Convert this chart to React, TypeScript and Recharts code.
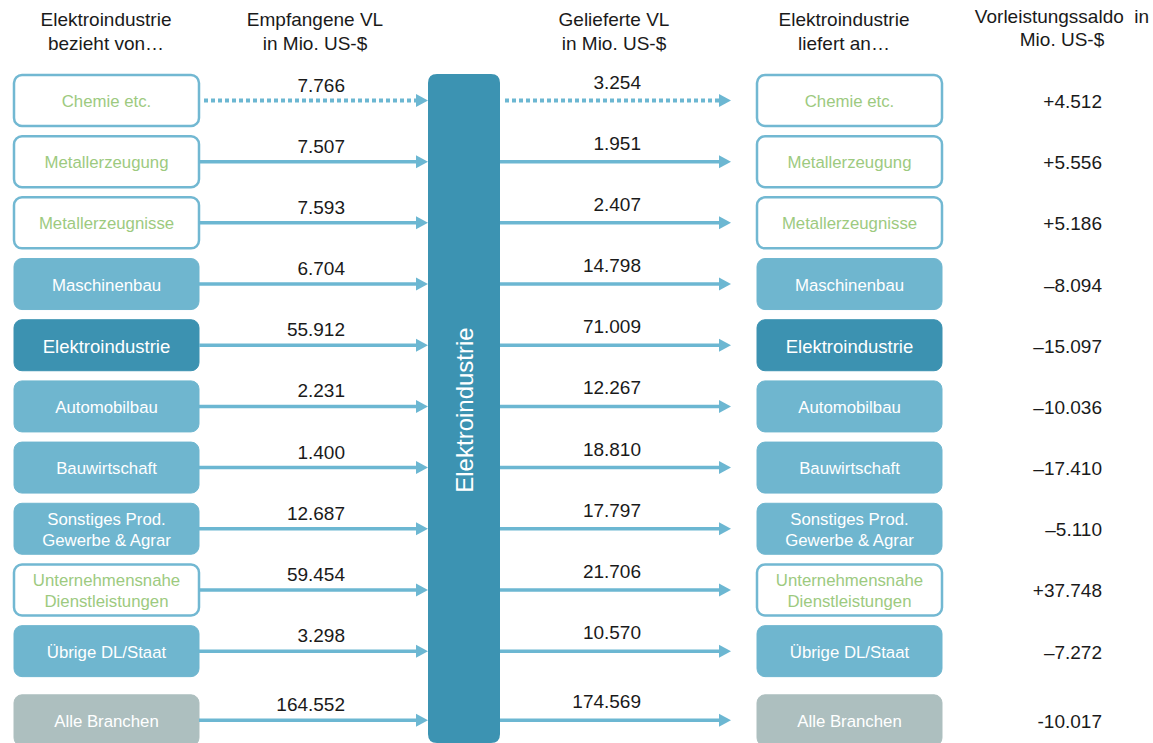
import { ComposedChart, Bar, XAxis, YAxis, ReferenceArea } from 'recharts'

const sectors = [
  'Chemie etc.',
  'Metallerzeugung',
  'Metallerzeugnisse',
  'Maschinenbau',
  'Elektroindustrie',
  'Automobilbau',
  'Bauwirtschaft',
  'Sonstiges Prod.\nGewerbe & Agrar',
  'Unternehmensnahe\nDienstleistungen',
  'Übrige DL/Staat',
  'Alle Branchen',
]
const received = [7766, 7507, 7593, 6704, 55912, 2231, 1400, 12687, 59454, 3298, 164552]
const delivered = [3254, 1951, 2407, 14798, 71009, 12267, 18810, 17797, 21706, 10570, 174569]
const balanceLabels = ['+4.512', '+5.556', '+5.186', '–8.094', '–15.097', '–10.036', '–17.410', '–5.110', '+37.748', '–7.272', '-10.017']
const boxKinds = ['outline', 'outline', 'outline', 'light', 'dark', 'light', 'light', 'light', 'outline', 'light', 'total']
const dottedRows = ['Chemie etc.']

const data = sectors.map((name, i) => ({
  name,
  received: received[i],
  delivered: delivered[i],
  balance: balanceLabels[i],
  kind: boxKinds[i],
  dotted: dottedRows.includes(name),
}))

const W = 1153
const H = 743
const FONT = '"Liberation Sans", Arial, sans-serif'
const ARROW = '#6cb7d2'
const GREEN = '#9dca7f'
const TEXT = '#1a1a1a'

const boxFill: Record<string, string> = { outline: '#ffffff', light: '#6fb6cf', dark: '#3c92b1', total: '#adbfbf' }

const fmt = (n: number) => String(n).replace(/\B(?=(\d{3})+(?!\d))/g, '.')

function SectorBox({ x, cy, name, kind }: { x: number; cy: number; name: string; kind: string }) {
  const w = 185
  const h = 51
  const lines = name.split('\n')
  const outline = kind === 'outline'
  const size = kind === 'dark' ? 18.5 : 16.8
  return (
    <g>
      <rect
        x={x}
        y={cy - h / 2}
        width={w}
        height={h}
        rx={8}
        fill={boxFill[kind]}
        stroke={outline ? '#72b8d2' : boxFill[kind]}
        strokeWidth={outline ? 2.5 : 1}
      />
      {lines.map((l, i) => (
        <text
          key={i}
          x={x + w / 2}
          y={cy + 1 + (i - (lines.length - 1) / 2) * 21}
          textAnchor="middle"
          dominantBaseline="central"
          fontSize={size}
          fontFamily={FONT}
          fill={outline ? GREEN : '#ffffff'}
        >
          {l}
        </text>
      ))}
    </g>
  )
}

function Flow({ x1, x2, cy, dotted }: { x1: number; x2: number; cy: number; dotted: boolean }) {
  return (
    <g>
      <line
        x1={dotted ? x1 + 5 : x1}
        y1={cy}
        x2={x2 - 10}
        y2={cy}
        stroke={ARROW}
        strokeWidth={dotted ? 4 : 3.5}
        strokeDasharray={dotted ? '4 3' : undefined}
      />
      <polygon points={`${x2},${cy} ${x2 - 12},${cy - 6.5} ${x2 - 12},${cy + 6.5}`} fill={ARROW} />
    </g>
  )
}

function RowShape(props: any) {
  const { y, height, payload } = props
  const cy = y + height / 2 + (payload.kind === 'total' ? 8 : 0)
  return (
    <g>
      <SectorBox x={14} cy={cy} name={payload.name} kind={payload.kind} />
      <Flow x1={199} x2={428} cy={cy} dotted={payload.dotted} />
      <text x={345} y={cy - 9} textAnchor="end" fontSize={19} fontFamily={FONT} fill={TEXT}>
        {fmt(payload.received)}
      </text>
      <Flow x1={500} x2={731} cy={cy} dotted={payload.dotted} />
      <text x={641} y={cy - 12} textAnchor="end" fontSize={19} fontFamily={FONT} fill={TEXT}>
        {fmt(payload.delivered)}
      </text>
      <SectorBox x={757} cy={cy} name={payload.name} kind={payload.kind} />
      <text x={1102} y={cy + 1} textAnchor="end" dominantBaseline="central" fontSize={19} fontFamily={FONT} fill={TEXT}>
        {payload.balance}
      </text>
    </g>
  )
}

function CenterBar(props: any) {
  const { x, width } = props
  const top = 74
  const r = 9
  const bottom = H
  const cx = x + width / 2
  const xr = x + width
  return (
    <g>
      <path
        d={`M${x},${bottom - r} L${x},${top + r} Q${x},${top} ${x + r},${top} L${xr - r},${top} Q${xr},${top} ${xr},${top + r} L${xr},${bottom - r} Q${xr},${bottom} ${xr - r},${bottom} L${x + r},${bottom} Q${x},${bottom} ${x},${bottom - r} Z`}
        fill="#3c93b2"
      />
      <text
        x={cx}
        y={410}
        transform={`rotate(-90 ${cx} 410)`}
        textAnchor="middle"
        dominantBaseline="central"
        fontSize={24}
        fontFamily={FONT}
        fill="#ffffff"
      >
        Elektroindustrie
      </text>
    </g>
  )
}

const headerStyle = (left: number, top: number, lh: number): React.CSSProperties => ({
  position: 'absolute',
  left: left - 120,
  width: 240,
  top,
  textAlign: 'center',
  fontFamily: FONT,
  fontSize: 19,
  lineHeight: `${lh}px`,
  color: TEXT,
  whiteSpace: 'pre',
})

export default function App() {
  return (
    <div style={{ position: 'absolute', left: 0, top: 0, width: W, height: H, background: '#fff', overflow: 'hidden' }}>
      <div style={headerStyle(106, 8, 24)}>Elektroindustrie<br />bezieht von…</div>
      <div style={headerStyle(315, 8, 24)}>Empfangene VL<br />in Mio. US-$</div>
      <div style={headerStyle(614, 8, 24)}>Gelieferte VL<br />in Mio. US-$</div>
      <div style={headerStyle(844, 8, 24)}>Elektroindustrie<br />liefert an…</div>
      <div style={headerStyle(1062, 5, 23)}>Vorleistungssaldo  in<br />Mio. US-$</div>
      <ComposedChart
        width={W}
        height={H}
        data={data}
        layout="vertical"
        margin={{ top: 70, right: 0, bottom: 0, left: 0 }}
        barCategoryGap={0}
        style={{ position: 'absolute', left: 0, top: 0 }}
      >
        <XAxis type="number" domain={[0, W]} allowDataOverflow hide />
        <YAxis type="category" dataKey="name" hide />
        <ReferenceArea x1={428} x2={500} ifOverflow="visible" shape={<CenterBar />} />
        <Bar dataKey="received" shape={<RowShape />} isAnimationActive={false} />
      </ComposedChart>
    </div>
  )
}
